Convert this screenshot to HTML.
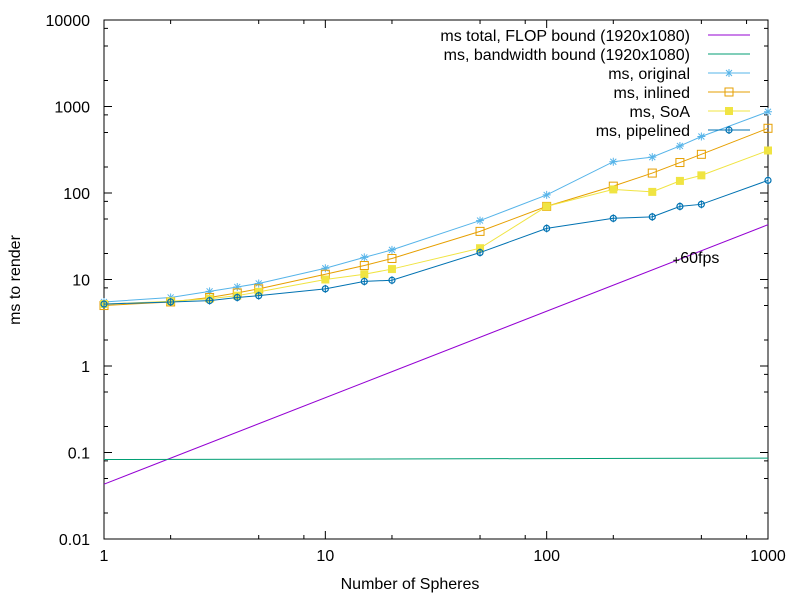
<!DOCTYPE html>
<html><head><meta charset="utf-8"><style>
body{margin:0;background:#fff}
svg text{font-family:"Liberation Sans",Arial,sans-serif;font-size:16px;fill:#000}
</style></head><body>
<svg id="chart" width="800" height="600" xmlns="http://www.w3.org/2000/svg">
<g id="axes"></g>
<g id="series"></g>
<g id="legend"></g>
<text x="410" y="589" text-anchor="middle">Number of Spheres</text>
<text transform="translate(20,280) rotate(-90)" text-anchor="middle">ms to render</text>
</svg>
<script>
const xs = [1,2,3,4,5,10,15,20,50,100,200,300,400,500,1000];
const original = [5.5,6.2,7.3,8.2,9,13.5,18,22,48,95,230,260,350,450,870];
const inlined = [5,5.5,6.2,7,7.8,11.5,14.5,17.5,36,70,120,170,225,280,560];
const soa = [5.2,5.6,6,6.5,7.2,10,11.5,13.2,23,70,110,103,138,160,310];
const pipelined = [5.2,5.5,5.7,6.2,6.5,7.8,9.5,9.8,20.5,39,51,53,70,74,140];
const flopX = [1,1000];
const flopY = [0.043,43];
const bwX = [1,1000];
const bwY = [0.083,0.086];
const fpsPoint = [385,16.7];
const xTicks = [1,10,100,1000];
const yTicks = [0.01,0.1,1,10,100,1000,10000];
const xTickLabels = ["1","10","100","1000"];
const yTickLabels = ["0.01","0.1","1","10","100","1000","10000"];

const L=104,R=768,T=20,B=539;
const X=v=>L+(Math.log10(v))/3*(R-L);
const Y=v=>B-(Math.log10(v)+2)/6*(B-T);
const NS="http://www.w3.org/2000/svg";
function mk(tag,parent,attrs){const e=document.createElementNS(NS,tag);for(const k in attrs)e.setAttribute(k,attrs[k]);parent.appendChild(e);return e;}
const axes=document.getElementById('axes'), ser=document.getElementById('series'), leg=document.getElementById('legend');
const frame=mk('rect',axes,{x:L,y:T,width:R-L,height:B-T,fill:'none',stroke:'#000','stroke-width':1});


let p='';
const minors=[2,5,8];
xTicks.forEach((t,i)=>{const x=X(t);p+=`M${x} ${B}v-8M${x} ${T}v8`;
  if(i<xTicks.length-1)minors.forEach(m=>{const xm=X(t*m);p+=`M${xm} ${B}v-4M${xm} ${T}v4`;});
  const tx=mk('text',axes,{x:x,y:B+22,'text-anchor':'middle'});tx.textContent=xTickLabels[i];
  
  });
yTicks.forEach((t,i)=>{const y=Y(t);p+=`M${L} ${y}h8M${R} ${y}h-8`;
  if(i<yTicks.length-1)minors.forEach(m=>{const ym=Y(t*m);p+=`M${L} ${ym}h4M${R} ${ym}h-4`;});
  const tx=mk('text',axes,{x:L-14,y:y+6,'text-anchor':'end'});tx.textContent=yTickLabels[i];
  
  });
const tk=mk('path',axes,{d:p,stroke:'#000','stroke-width':1,fill:'none'});



function marker(g,type,x,y,c){
  if(type==='star'){mk('path',g,{d:`M${x-4} ${y}h8M${x} ${y-4}v8M${x-3} ${y-3}l6 6M${x-3} ${y+3}l6 -6`,stroke:c,'stroke-width':1});}
  else if(type==='box'){mk('rect',g,{x:x-4,y:y-4,width:8,height:8,fill:'none',stroke:c,'stroke-width':1});}
  else if(type==='fbox'){mk('rect',g,{x:x-4,y:y-4,width:8,height:8,fill:c});}
  else if(type==='circ'){mk('circle',g,{cx:x,cy:y,r:3,fill:'none',stroke:c,'stroke-width':1.2});mk('path',g,{d:`M${x} ${y-4}v8`,stroke:c});}
}
function line(name,xv,yv,c,mtype){
  const g=mk('g',ser,{});
  
  
  mk('polyline',g,{points:xv.map((v,i)=>X(v)+','+Y(yv[i])).join(' '),fill:'none',stroke:c,'stroke-width':1});
  if(mtype)xv.forEach((v,i)=>marker(g,mtype,X(v),Y(yv[i]),c));
}
line('flop-bound-line',flopX,flopY,'#9400d3',null);
line('bandwidth-bound-line',bwX,bwY,'#009e73',null);
line('original-series',xs,original,'#56b4e9','star');
line('inlined-series',xs,inlined,'#e69f00','box');
line('soa-series',xs,soa,'#f0e442','fbox');
line('pipelined-series',xs,pipelined,'#0072b2','circ');
const fg=mk('g',ser,{});


const fx=X(fpsPoint[0]),fy=Y(fpsPoint[1]);
mk('path',fg,{d:`M${fx-3} ${fy}h6M${fx} ${fy-3}v6`,stroke:'#000'});
const ft=mk('text',fg,{x:fx+4,y:fy+3});ft.textContent='60fps';

const items=[['ms total, FLOP bound (1920x1080)','#9400d3',null],['ms, bandwidth bound (1920x1080)','#009e73',null],['ms, original','#56b4e9','star'],['ms, inlined','#e69f00','box'],['ms, SoA','#f0e442','fbox'],['ms, pipelined','#0072b2','circ']];
items.forEach((it,i)=>{const y=35+i*19;const g=mk('g',leg,{});
  
  
  const t=mk('text',g,{x:690,y:y+6,'text-anchor':'end'});t.textContent=it[0];
  mk('path',g,{d:`M708 ${y}h42`,stroke:it[1]});
  if(it[2])marker(g,it[2],729,y,it[1]);});
</script>
</body></html>
